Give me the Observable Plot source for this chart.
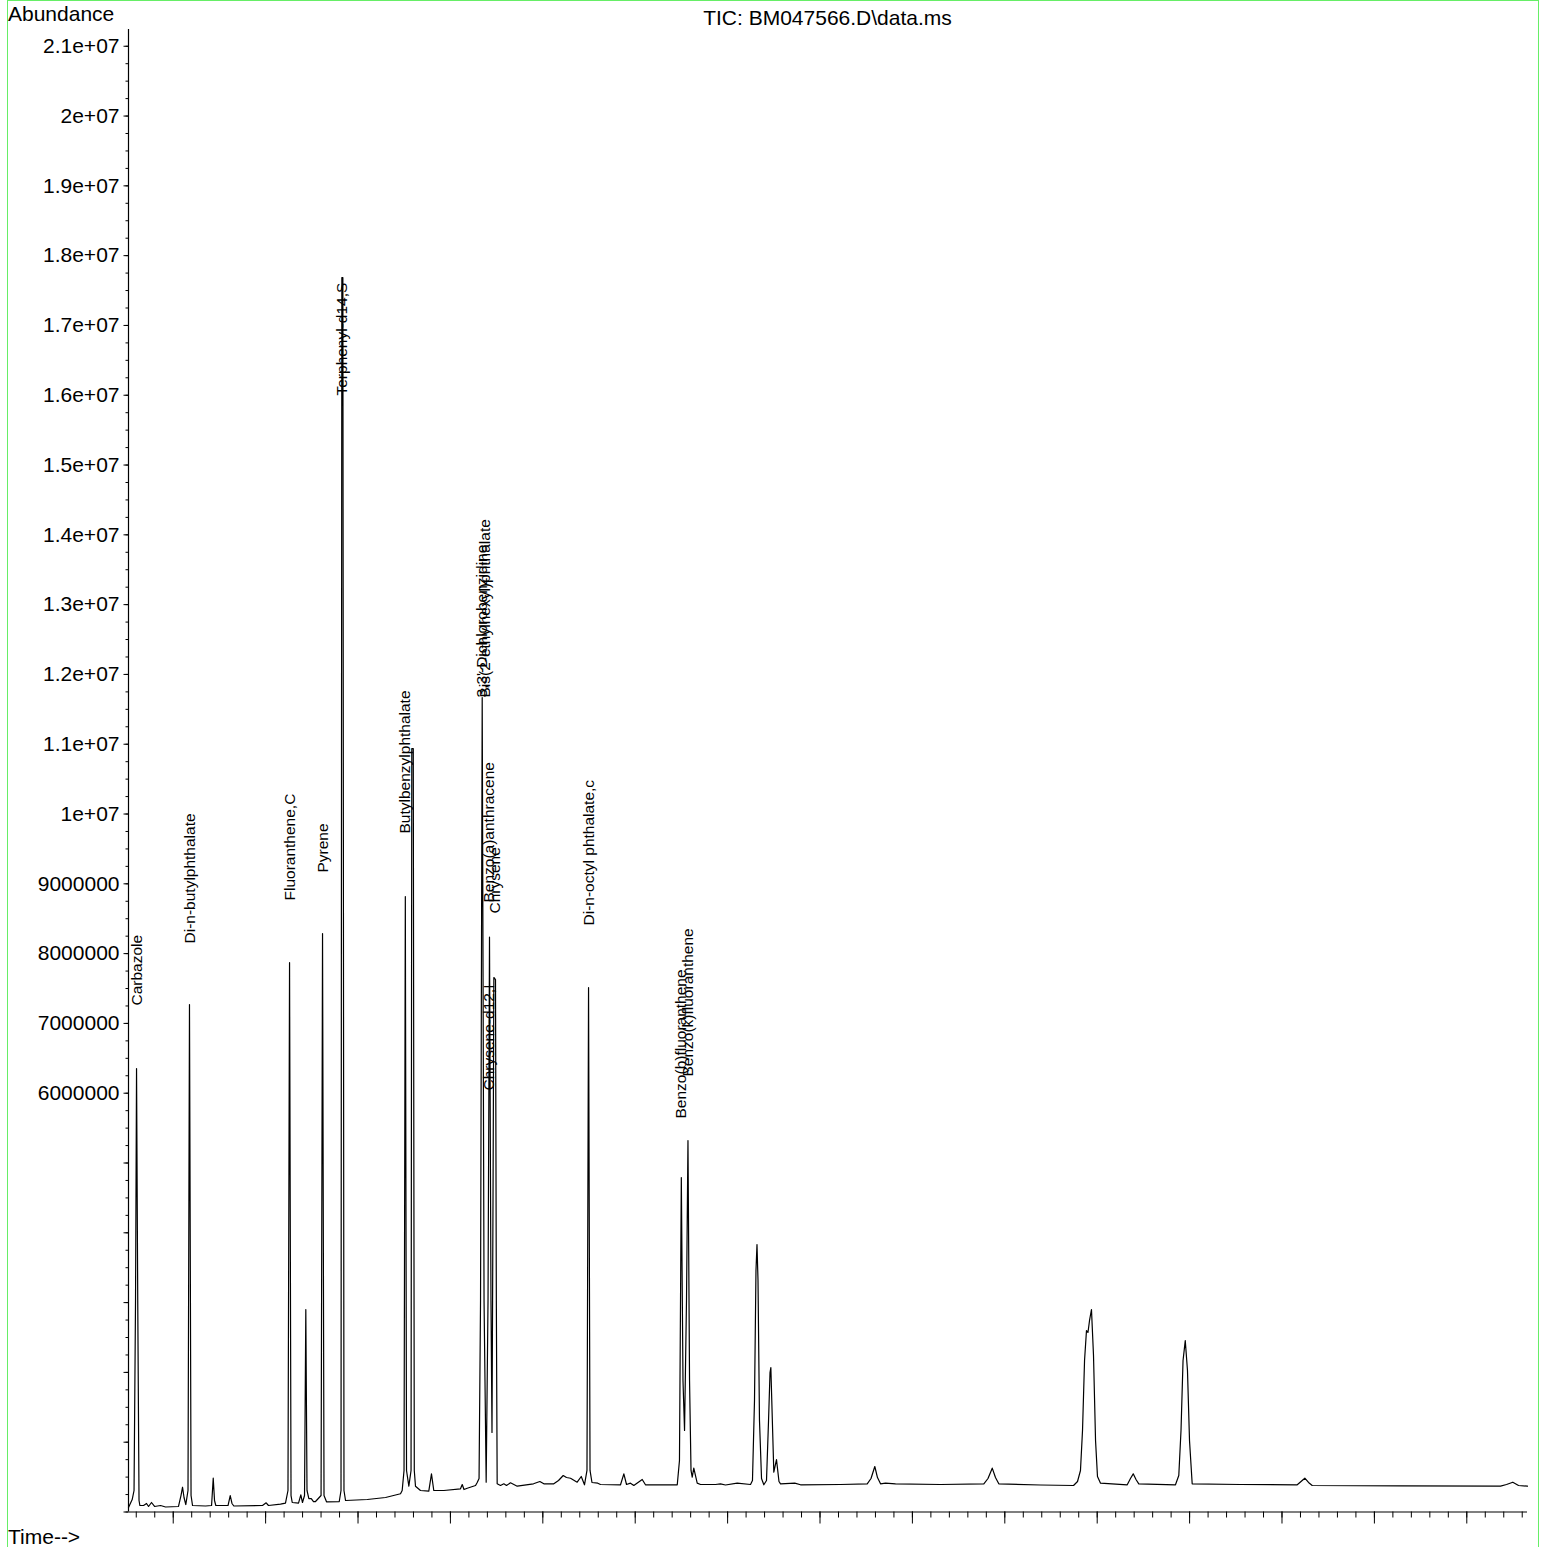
<!DOCTYPE html>
<html>
<head>
<meta charset="utf-8">
<script src="https://cdn.jsdelivr.net/npm/d3@7"></script>
<script src="https://cdn.jsdelivr.net/npm/@observablehq/plot@0.6"></script>
<style>
  html, body { margin: 0; padding: 0; background: #fff; }
  body { font-family: "Liberation Sans", Arial, Helvetica, sans-serif; color: #000; }
  #wrap { position: relative; width: 1543px; height: 1547px; overflow: hidden; }
  #frame { position: absolute; left: 7px; top: 0px; width: 1532px; height: 1560px; border: 1px solid #66ee66; box-sizing: border-box; pointer-events: none; }
  .txt { position: absolute; font-size: 21px; line-height: 21px; white-space: nowrap; }
  #chart { position: absolute; left: 0; top: 0; }
</style>
</head>
<body>
<div id="wrap">
  <div id="chart"></div>
  <div id="frame"></div>
  <div class="txt" id="ylab" style="left:8px; top:3px;">Abundance</div>
  <div class="txt" id="title" style="left:0; width:1655px; text-align:center; top:7px;">TIC: BM047566.D\data.ms</div>
  <div class="txt" id="xlab" style="left:8px; top:1526px;">Time--&gt;</div>
</div>
<script>
// ---- trace: retention time (min) ----
const time = [
  10.516, 10.556, 10.576, 10.592, 10.603, 10.616, 10.630, 10.639, 10.679, 10.711,
  10.733, 10.765, 10.798, 10.863, 10.917, 11.057, 11.084, 11.101, 11.117, 11.136,
  11.160, 11.176, 11.193, 11.209, 11.350, 11.415, 11.433, 11.447, 11.461, 11.593,
  11.617, 11.636, 11.656, 11.966, 12.006, 12.031, 12.161, 12.215, 12.242, 12.259,
  12.275, 12.288, 12.356, 12.381, 12.399, 12.421, 12.435, 12.448, 12.468, 12.494,
  12.518, 12.540, 12.600, 12.616, 12.632, 12.659, 12.797, 12.816, 12.825, 12.836,
  12.848, 12.865, 13.100, 13.298, 13.460, 13.478, 13.498, 13.512, 13.525, 13.550,
  13.574, 13.582, 13.598, 13.609, 13.622, 13.676, 13.766, 13.795, 13.820, 13.929,
  14.109, 14.128, 14.147, 14.182, 14.272, 14.290, 14.310, 14.326, 14.344, 14.364,
  14.387, 14.407, 14.423, 14.439, 14.450, 14.461, 14.470, 14.488, 14.497, 14.506,
  14.542, 14.578, 14.607, 14.650, 14.723, 14.899, 14.968, 15.011, 15.119, 15.170,
  15.221, 15.256, 15.300, 15.372, 15.416, 15.451, 15.478, 15.495, 15.511, 15.532,
  15.595, 15.624, 15.841, 15.877, 15.906, 15.949, 15.985, 16.076, 16.111, 16.455,
  16.479, 16.499, 16.517, 16.534, 16.555, 16.571, 16.588, 16.604, 16.617, 16.634,
  16.671, 16.707, 16.869, 16.923, 16.977, 17.104, 17.248, 17.269, 17.291, 17.307,
  17.318, 17.329, 17.345, 17.367, 17.392, 17.421, 17.443, 17.459, 17.468, 17.478,
  17.500, 17.529, 17.556, 17.573, 17.727, 17.789, 18.222, 18.511, 18.552, 18.593,
  18.622, 18.655, 18.709, 18.817, 19.304, 19.773, 19.818, 19.864, 19.899, 19.935,
  20.386, 20.744, 20.787, 20.819, 20.841, 20.863, 20.884, 20.900, 20.917, 20.938,
  20.960, 20.982, 21.003, 21.036, 21.325, 21.360, 21.390, 21.420, 21.450, 21.847,
  21.883, 21.907, 21.929, 21.953, 21.977, 21.999, 22.028, 22.551, 23.165, 23.206,
  23.247, 23.287, 23.327, 24.282, 25.365, 25.430, 25.498, 25.560, 25.657
];
// ---- trace: abundance ----
const abundance = [
  64500, 179000, 308000, 3030000, 6354000, 3030000, 165000, 93000, 93000, 122000,
  79000, 136000, 79000, 93000, 72000, 79000, 236000, 355000, 208000, 107000,
  308000, 7271000, 236000, 93000, 86000, 93000, 484000, 165000, 93000, 93000,
  236000, 122000, 86000, 93000, 132000, 93000, 112000, 126000, 308000, 7872000,
  236000, 136000, 126000, 246000, 136000, 236000, 2901000, 308000, 193000, 193000,
  150000, 150000, 236000, 8288000, 236000, 146000, 150000, 308000, 17686000, 17686000,
  308000, 165000, 179000, 208000, 261000, 308000, 595000, 8818000, 595000, 370000,
  595000, 10938000, 10938000, 595000, 370000, 308000, 298000, 547000, 308000, 308000,
  332000, 394000, 322000, 341000, 380000, 423000, 480000, 3030000, 11669000, 3030000,
  427000, 3030000, 8235000, 3030000, 1139000, 4463000, 7658000, 7629000, 3030000, 404000,
  380000, 404000, 380000, 418000, 370000, 404000, 437000, 404000, 404000, 451000,
  523000, 494000, 484000, 427000, 509000, 390000, 595000, 7514000, 595000, 423000,
  413000, 394000, 390000, 547000, 394000, 413000, 380000, 466000, 390000, 390000,
  738000, 4792000, 1884000, 1168000, 3030000, 5322000, 1884000, 595000, 499000, 628000,
  413000, 394000, 394000, 404000, 387000, 413000, 394000, 451000, 1597000, 3460000,
  3832000, 3317000, 1311000, 480000, 390000, 451000, 1311000, 1999000, 2070000, 1597000,
  570000, 752000, 437000, 404000, 413000, 390000, 394000, 404000, 480000, 652000,
  494000, 404000, 415000, 404000, 394000, 404000, 480000, 628000, 494000, 404000,
  387000, 380000, 437000, 595000, 1168000, 2170000, 2600000, 2572000, 2744000, 2901000,
  2242000, 1024000, 509000, 413000, 390000, 480000, 547000, 466000, 404000, 390000,
  523000, 1168000, 2170000, 2456000, 2027000, 1024000, 404000, 394000, 390000, 437000,
  484000, 423000, 380000, 375000, 370000, 394000, 427000, 380000, 370000
];
// ---- compound labels ----
const compoundNames = [
  "Carbazole", "Di-n-butylphthalate", "Fluoranthene,C", "Pyrene", "Terphenyl-d14,S",
  "Butylbenzylphthalate", "3,3'-Dichlorobenzidine", "Bis(2-ethylhexyl)phthalate",
  "Benzo(a)anthracene", "Chrysene", "Chrysene-d12,I", "Di-n-octyl phthalate,c",
  "Benzo(b)fluoranthene", "Benzo(k)fluoranthene"
];
const compoundTimes = [
  10.608, 11.182, 12.259, 12.616, 12.832, 13.514, 14.347, 14.380,
  14.423, 14.483, 14.423, 15.495, 16.501, 16.577
];
const compoundLabelAbundance = [
  7256000, 8145000, 8761000, 9162000, 15996000, 9721000, 11669000, 11669000,
  8732000, 8574000, 6039000, 8403000, 5638000, 6239000
];
// ---- y axis ticks ----
const yLabelledTicks = [6e6, 7e6, 8e6, 9e6, 1e7, 1.1e7, 1.2e7, 1.3e7, 1.4e7, 1.5e7, 1.6e7, 1.7e7, 1.8e7, 1.9e7, 2e7, 2.1e7];
const yTickLabels = ["6000000", "7000000", "8000000", "9000000", "1e+07", "1.1e+07", "1.2e+07", "1.3e+07", "1.4e+07", "1.5e+07", "1.6e+07", "1.7e+07", "1.8e+07", "1.9e+07", "2e+07", "2.1e+07"];
const yUnlabelledTicks = [0, 1e6, 2e6, 3e6, 4e6, 5e6];
const yMinorStep = 250000;
// ---- x axis ticks (minutes) ----
const xMajorTicks = [11, 12, 13, 14, 15, 16, 17, 18, 19, 20, 21, 22, 23, 24, 25];
const xMinorStep = 0.2;
const xDomain = [10.516, 25.657];
const yDomain = [0, 21240000];

const trace = time.map((t, i) => ({t, v: abundance[i]}));
const labels = compoundNames.map((name, i) => ({name, t: compoundTimes[i], v: compoundLabelAbundance[i]}));
const labelMap = new Map(yLabelledTicks.map((v, i) => [v, yTickLabels[i]]));
const yMinor = d3.range(0, yDomain[1] + 1, yMinorStep);
const xMinor = d3.range(10.6, xDomain[1] + 1e-9, xMinorStep).map(d => Math.round(d * 10) / 10);

const font = '"Liberation Sans", Arial, Helvetica, sans-serif';
const chart = Plot.plot({
  width: 1543,
  height: 1547,
  marginLeft: 128,
  marginRight: 16,
  marginTop: 29,
  marginBottom: 35.5,
  x: {domain: xDomain, label: null},
  y: {domain: yDomain, label: null},
  style: {fontFamily: font, fontSize: "21px", color: "#000", background: "transparent", overflow: "visible"},
  marks: [
    Plot.axisY(yMinor, {tickSize: 2.5, tickFormat: () => "", stroke: "#000", label: null}),
    Plot.axisY(yUnlabelledTicks, {tickSize: 4.5, tickFormat: () => "", stroke: "#000", label: null}),
    Plot.axisY(yLabelledTicks, {tickSize: 4.5, tickPadding: 4.5, tickFormat: d => labelMap.get(d), fontSize: 21, stroke: "#000", fill: "#000", label: null}),
    Plot.axisX(xMinor, {tickSize: 6, tickFormat: () => "", stroke: "#000", label: null}),
    Plot.axisX(xMajorTicks, {tickSize: 12, tickFormat: () => "", stroke: "#000", label: null}),
    Plot.ruleX([xDomain[0]], {stroke: "#000", strokeWidth: 1.2}),
    Plot.ruleY([0], {stroke: "#000", strokeWidth: 1.2}),
    Plot.line(trace, {x: "t", y: "v", stroke: "#000", strokeWidth: 1.2}),
    Plot.text(labels, {x: "t", y: "v", text: "name", rotate: -90, textAnchor: "start", fontSize: 15.5, fill: "#000"})
  ]
});
document.getElementById("chart").appendChild(chart);
</script>
</body>
</html>
